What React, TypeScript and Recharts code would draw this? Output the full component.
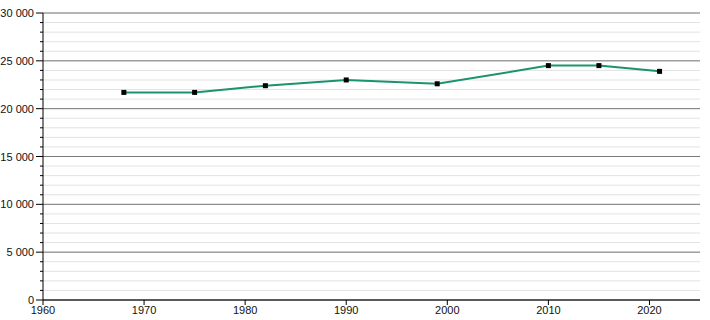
import React from "react";
import {
  LineChart,
  Line,
  XAxis,
  YAxis,
  CartesianGrid,
} from "recharts";

const years = [1968, 1975, 1982, 1990, 1999, 2010, 2015, 2021];
const population = [21700, 21700, 22400, 23000, 22600, 24500, 24500, 23900];

const xTicks = [1960, 1970, 1980, 1990, 2000, 2010, 2020];
const yMajor = [0, 5000, 10000, 15000, 20000, 25000, 30000];
const yMinor = Array.from({ length: 31 }, (_, i) => i * 1000);

const data = years.map((year, i) => ({ year, value: population[i] }));

const fmt = (v: number) =>
  v >= 1000 ? `${Math.floor(v / 1000)} ${String(v % 1000).padStart(3, "0")}` : `${v}`;

const YTick = ({ x, y, payload }: any) => {
  const v = payload.value;
  const major = v % 5000 === 0;
  const axisX = x + 8;
  return (
    <g>
      <line
        x1={axisX - (major ? 7 : 3)}
        x2={axisX}
        y1={y}
        y2={y}
        stroke="#000"
        strokeWidth={1}
      />
      {major && (
        <text
          x={x - 1}
          y={y}
          dy={4}
          textAnchor="end"
          fontSize={11}
          fill="#111"
          fontFamily="Liberation Sans, Arial, sans-serif"
        >
          {fmt(v)}
        </text>
      )}
    </g>
  );
};

const SquareDot = ({ cx, cy }: any) => (
  <rect x={cx - 2.5} y={cy - 2.5} width={5} height={5} fill="#000" />
);

export default function App() {
  return (
    <div style={{ position: "absolute", left: 0, top: 0, background: "#fff" }}>
      <LineChart
        width={710}
        height={320}
        data={data}
        margin={{ top: 13, right: 10, left: 0, bottom: 0 }}
      >
        <CartesianGrid
          vertical={false}
          horizontalValues={yMinor}
          stroke="#e2e2e2"
          strokeWidth={1}
        />
        <CartesianGrid
          vertical={false}
          horizontalValues={yMajor}
          stroke="#7a7a7a"
          strokeWidth={1}
        />
        <XAxis
          dataKey="year"
          type="number"
          domain={[1960, 2025]}
          ticks={xTicks}
          allowDataOverflow
          height={20}
          axisLine={{ stroke: "#000" }}
          tickLine={{ stroke: "#000" }}
          tickSize={5}
          tickMargin={1}
          tick={{ fontSize: 11, fill: "#111", fontFamily: "Liberation Sans, Arial, sans-serif" }}
        />
        <YAxis
          type="number"
          domain={[0, 30000]}
          ticks={yMinor}
          interval={0}
          width={43}
          axisLine={{ stroke: "#000" }}
          tickLine={false}
          tickSize={6}
          tickMargin={2}
          tick={<YTick />}
        />
        <Line
          type="linear"
          dataKey="value"
          stroke="#1a9370"
          strokeWidth={2}
          dot={<SquareDot />}
          activeDot={false}
          isAnimationActive={false}
        />
      </LineChart>
    </div>
  );
}
